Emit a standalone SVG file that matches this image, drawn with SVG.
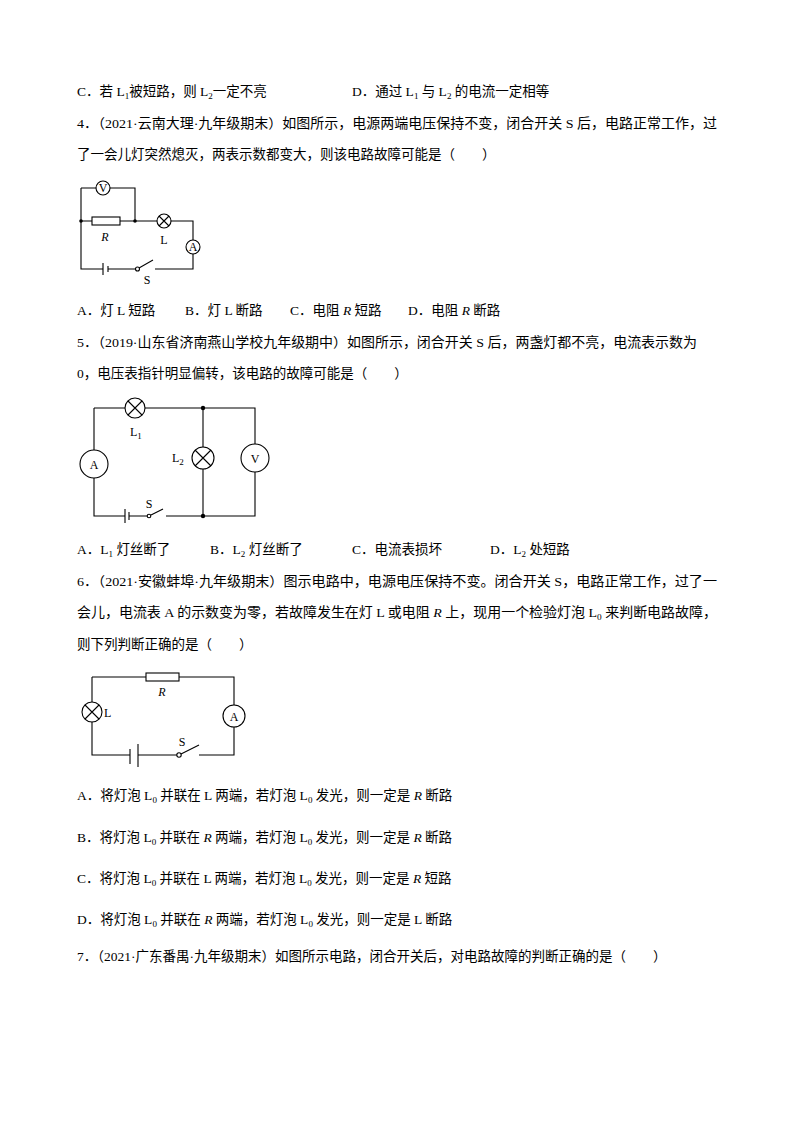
<svg xmlns="http://www.w3.org/2000/svg" width="794" height="1123" viewBox="0 0 794 1123">
<style>
text{font-family:"Liberation Serif","Noto Sans CJK SC",serif;font-size:13.5px;fill:#000}
.s{font-size:9px}
.w{fill:none;stroke:#000;stroke-width:1.1}
.m{fill:#fff;stroke:#000;stroke-width:1.1}
.l{font-size:12px}
.i{font-style:italic}
</style>
<rect width="794" height="1123" fill="#fff"/>
<g id="text">
<text x="77" y="96" xml:space="preserve">C．若 L<tspan class="s" dy="3">1</tspan><tspan dy="-3">被短路，则 L</tspan><tspan class="s" dy="3">2</tspan><tspan dy="-3">一定不亮</tspan></text>
<text x="352" y="96" xml:space="preserve">D．通过 L<tspan class="s" dy="3">1</tspan><tspan dy="-3"> 与 L</tspan><tspan class="s" dy="3">2</tspan><tspan dy="-3"> 的电流一定相等</tspan></text>
<text x="77" y="128" textLength="640" lengthAdjust="spacingAndGlyphs">4．（2021·云南大理·九年级期末）如图所示，电源两端电压保持不变，闭合开关 S 后，电路正常工作，过</text>
<text x="77" y="159">了一会儿灯突然熄灭，两表示数都变大，则该电路故障可能是（　　）</text>
<text x="77" y="315" xml:space="preserve">A．灯 L 短路</text><text x="185" y="315" xml:space="preserve">B．灯 L 断路</text><text x="290" y="315" xml:space="preserve">C．电阻 <tspan class="i">R</tspan> 短路</text><text x="408" y="315" xml:space="preserve">D．电阻 <tspan class="i">R</tspan> 断路</text>
<text x="77" y="347" textLength="620" lengthAdjust="spacingAndGlyphs">5．（2019·山东省济南燕山学校九年级期中）如图所示，闭合开关 S 后，两盏灯都不亮，电流表示数为</text>
<text x="77" y="378">0，电压表指针明显偏转，该电路的故障可能是（　　）</text>
<text x="77" y="554" xml:space="preserve">A．L<tspan class="s" dy="3">1</tspan><tspan dy="-3"> 灯丝断了</tspan></text>
<text x="210" y="554" xml:space="preserve">B．L<tspan class="s" dy="3">2</tspan><tspan dy="-3"> 灯丝断了</tspan></text>
<text x="352" y="554">C．电流表损坏</text>
<text x="490" y="554" xml:space="preserve">D．L<tspan class="s" dy="3">2</tspan><tspan dy="-3"> 处短路</tspan></text>
<text x="77" y="586" textLength="640" lengthAdjust="spacingAndGlyphs">6．（2021·安徽蚌埠·九年级期末）图示电路中，电源电压保持不变。闭合开关 S，电路正常工作，过了一</text>
<text x="77" y="617" textLength="640" lengthAdjust="spacingAndGlyphs" xml:space="preserve">会儿，电流表 A 的示数变为零，若故障发生在灯 L 或电阻 <tspan class="i">R</tspan> 上，现用一个检验灯泡 L<tspan class="s" dy="3">0</tspan><tspan dy="-3"> 来判断电路故障，</tspan></text>
<text x="77" y="649">则下列判断正确的是（　　）</text>
<text x="77" y="800" xml:space="preserve">A．将灯泡 L<tspan class="s" dy="3">0</tspan><tspan dy="-3"> 并联在 L 两端，若灯泡 L</tspan><tspan class="s" dy="3">0</tspan><tspan dy="-3"> 发光，则一定是 </tspan><tspan class="i">R</tspan> 断路</text>
<text x="77" y="842" xml:space="preserve">B．将灯泡 L<tspan class="s" dy="3">0</tspan><tspan dy="-3"> 并联在 </tspan><tspan class="i">R</tspan> 两端，若灯泡 L<tspan class="s" dy="3">0</tspan><tspan dy="-3"> 发光，则一定是 </tspan><tspan class="i">R</tspan> 断路</text>
<text x="77" y="883" xml:space="preserve">C．将灯泡 L<tspan class="s" dy="3">0</tspan><tspan dy="-3"> 并联在 L 两端，若灯泡 L</tspan><tspan class="s" dy="3">0</tspan><tspan dy="-3"> 发光，则一定是 </tspan><tspan class="i">R</tspan> 短路</text>
<text x="77" y="924" xml:space="preserve">D．将灯泡 L<tspan class="s" dy="3">0</tspan><tspan dy="-3"> 并联在 </tspan><tspan class="i">R</tspan> 两端，若灯泡 L<tspan class="s" dy="3">0</tspan><tspan dy="-3"> 发光，则一定是 L 断路</tspan></text>
<text x="77" y="961">7．（2021·广东番禺·九年级期末）如图所示电路，闭合开关后，对电路故障的判断正确的是（　　）</text>
</g>
<g id="connectors">
<path class="w" d="M81,188H135V221M81,188V269H103M108,269H137M155,269H193V221H135M81,221H135"/>
<path class="w" d="M103,263V275M108,266V272" stroke-width="1.6"/>
<path class="w" d="M139,268L153,260"/>
<path class="w" d="M94,408H255V516H166M149,516H129M125,516H94V408M203,408V516"/>
<path class="w" d="M125,509V523M129,512V520" stroke-width="1.6"/>
<path class="w" d="M151,515L163,509"/>
<path class="w" d="M92,677H234V755H199M177,755H138M130,755H92V677"/>
<path class="w" d="M130,749V764M138,744V767" stroke-width="1.8"/>
<path class="w" d="M181,754L199,745"/>
</g>
<g id="c1">
<circle class="m" cx="103" cy="188" r="7"/><text class="l" x="103" y="192" text-anchor="middle">V</text>
<rect class="m" x="92" y="217" width="28" height="8"/>
<circle cx="81" cy="221" r="1.8"/><circle cx="135" cy="221" r="1.8"/>
<circle class="m" cx="164" cy="221" r="7"/><path class="w" d="M159,216L169,226M169,216L159,226"/>
<circle class="m" cx="193" cy="247" r="7"/><text class="l" x="193" y="251" text-anchor="middle">A</text>
<circle class="m" cx="137.5" cy="269" r="2"/>
<text class="l i" x="105" y="241" text-anchor="middle">R</text>
<text class="l" x="164" y="244" text-anchor="middle">L</text>
<text class="l" x="147" y="284" text-anchor="middle">S</text>
</g>
<g id="c2">
<circle class="m" cx="135" cy="408" r="10"/><path class="w" d="M128,401L142,415M142,401L128,415"/>
<text class="l" x="130" y="436">L<tspan class="s" dy="3">1</tspan></text>
<circle cx="203" cy="408" r="2.2"/><circle cx="203" cy="516" r="2.2"/>
<circle class="m" cx="203" cy="458" r="11"/><path class="w" d="M195,450L211,466M211,450L195,466"/>
<text class="l" x="172" y="462">L<tspan class="s" dy="3">2</tspan></text>
<circle class="m" cx="255" cy="458" r="14"/><text class="l" x="255" y="462.5" text-anchor="middle">V</text>
<circle class="m" cx="94" cy="464" r="14"/><text class="l" x="94" y="468.5" text-anchor="middle">A</text>
<circle class="m" cx="149" cy="516" r="1.8"/>
<text class="l" x="149" y="508" text-anchor="middle">S</text>
</g>
<g id="c3">
<rect class="m" x="146" y="673" width="33" height="8"/>
<text class="l i" x="162" y="696" text-anchor="middle">R</text>
<circle class="m" cx="234" cy="716" r="11"/><text class="l" x="234" y="720.5" text-anchor="middle">A</text>
<circle class="m" cx="92" cy="712" r="10"/><path class="w" d="M85,705L99,719M99,705L85,719"/>
<text class="l" x="104" y="717">L</text>
<circle class="m" cx="179" cy="755" r="2.2"/>
<text class="l" x="182" y="746" text-anchor="middle">S</text>
</g>
</svg>
